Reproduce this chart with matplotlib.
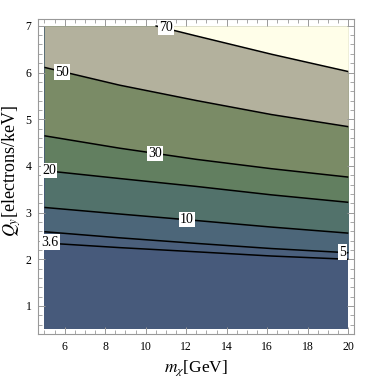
import matplotlib
matplotlib.use("Agg")
import matplotlib.pyplot as plt
from matplotlib.ticker import MultipleLocator

# ---- data ----
m_pts = [5.0, 8.7, 12.5, 16.2, 20.0]
q_3p6 = [2.35, 2.25, 2.16, 2.07, 2.00]
q_5 = [2.59, 2.46, 2.34, 2.23, 2.14]
q_10 = [3.11, 2.97, 2.83, 2.69, 2.56]
q_20 = [3.90, 3.73, 3.56, 3.38, 3.22]
q_30 = [4.645, 4.38, 4.14, 3.94, 3.76]
q_50 = [6.11, 5.73, 5.40, 5.10, 4.84]
m_70 = [10.48, 12.43, 16.22, 20.0]
q_70 = [7.0, 6.79, 6.39, 6.02]

levels = ["3.6", "5", "10", "20", "30", "50", "70"]
region_colors = ["#475A7B", "#4A5F7C", "#4C6679", "#52726B",
                 "#627F60", "#7A8B66", "#B3B19D", "#FFFEE9"]
label_pos = {"70": (11.0, 6.96), "50": (5.87, 6.01), "30": (10.46, 4.27),
             "20": (5.22, 3.90), "10": (12.02, 2.85), "3.6": (5.28, 2.37),
             "5": (19.72, 2.155)}

x_min, x_max, y_min, y_max = 5.0, 20.0, 0.5, 7.0

plt.rcParams['font.family'] = ['Liberation Serif', 'DejaVu Serif']
plt.rcParams['mathtext.fontset'] = 'stix'

fig = plt.figure(figsize=(3.74, 3.81), dpi=100)
ax = fig.add_axes([0.1024, 0.1234, 0.8441, 0.826])

lines = [(m_pts, q_3p6), (m_pts, q_5), (m_pts, q_10), (m_pts, q_20),
         (m_pts, q_30), (m_pts, q_50), (m_70, q_70)]

# base region
ax.fill_between([x_min, x_max], [y_min, y_min], [y_max, y_max],
                color=region_colors[0], lw=0, zorder=1)
for (mx, qy), col in zip(lines, region_colors[1:]):
    ax.fill_between(mx, qy, [y_max] * len(mx), color=col, lw=0, zorder=1)
for mx, qy in lines:
    ax.plot(mx, qy, color="black", lw=1.1, zorder=2, solid_capstyle='butt',
            solid_joinstyle='round')

for lev in levels:
    x, y = label_pos[lev]
    ax.text(x, y, lev, ha="center", va="center", fontsize=10, zorder=3,
            bbox=dict(facecolor="white", edgecolor="none", pad=0.8))

ax.set_xlim(4.70, 20.28)
ax.set_ylim(0.40, 7.14)
ax.xaxis.set_minor_locator(MultipleLocator(0.5))
ax.yaxis.set_minor_locator(MultipleLocator(0.2))
ax.set_xticks([6, 8, 10, 12, 14, 16, 18, 20])
ax.set_yticks([1, 2, 3, 4, 5, 6, 7])
ax.tick_params(which="both", direction="in", top=True, right=True,
               color="#999999", labelsize=8.5, pad=5)
ax.tick_params(which="major", length=5, width=0.7)
ax.tick_params(which="minor", length=2.8, width=0.6)
for s in ax.spines.values():
    s.set_color("#999999")
    s.set_linewidth(0.8)

ax.set_xlabel(r"$m_{\chi}$[GeV]", fontsize=12.5, labelpad=4)
ax.set_ylabel(r"$Q_{y}$[electrons/keV]", fontsize=13)
ax.yaxis.set_label_coords(-0.05, 0.518)

fig.savefig("out.png", dpi=100)
